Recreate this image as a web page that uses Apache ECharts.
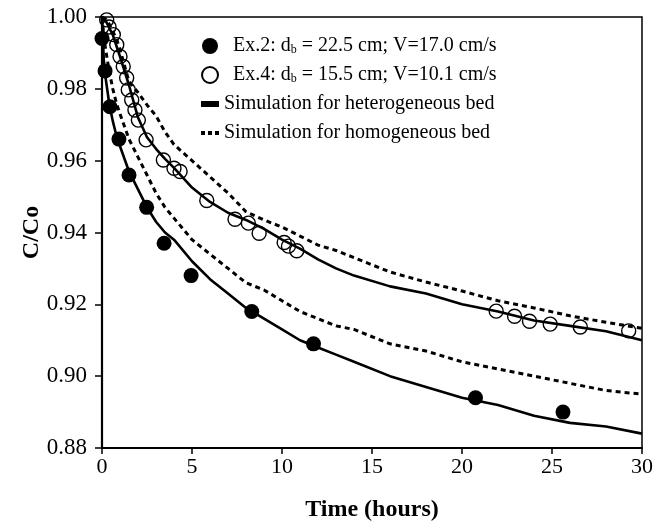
<!DOCTYPE html>
<html>
<head>
<meta charset="utf-8">
<script src="https://cdn.jsdelivr.net/npm/echarts@6/dist/echarts.min.js"></script>
<style>html,body{margin:0;padding:0;background:#fff}#c{width:665px;height:530px}</style>
</head>
<body>
<div id="c"></div>
<script>
// ---- data ----
const ex2Time = [0, 0.17, 0.44, 0.94, 1.5, 2.48, 3.45, 4.95, 8.32, 11.75, 20.75, 25.61];
const ex2Val  = [0.994, 0.985, 0.975, 0.966, 0.956, 0.947, 0.937, 0.928, 0.918, 0.909, 0.894, 0.890];

const ex4Time = [0.26, 0.39, 0.63, 0.82, 1.0, 1.18, 1.37, 1.46, 1.65, 1.83, 2.02, 2.45, 3.41, 4.0, 4.34, 5.82, 7.39, 8.13, 8.73, 10.12, 10.36, 10.82, 21.9, 22.92, 23.75, 24.9, 26.57, 29.26];
const ex4Val  = [0.9992, 0.9972, 0.9951, 0.9923, 0.989, 0.9862, 0.983, 0.9797, 0.9769, 0.9741, 0.9713, 0.9658, 0.9602, 0.9579, 0.957, 0.9489, 0.9437, 0.9426, 0.9398, 0.9372, 0.9362, 0.9349, 0.9181, 0.9167, 0.9153, 0.9145, 0.9137, 0.9126];

const simTime = [0, 0.1, 0.2, 0.4, 0.6, 0.8, 1, 1.5, 2, 2.5, 3, 3.5, 4, 5, 6, 7, 8, 9, 10, 11, 12, 13, 14, 16, 18, 20, 22, 24, 26, 28, 30];
const hetEx2 = [1.000, 0.988, 0.983, 0.976, 0.971, 0.967, 0.964, 0.957, 0.952, 0.947, 0.943, 0.940, 0.938, 0.932, 0.927, 0.923, 0.919, 0.916, 0.913, 0.910, 0.908, 0.906, 0.904, 0.900, 0.897, 0.894, 0.892, 0.889, 0.887, 0.886, 0.884];
const homEx2 = [1.000, 0.995, 0.991, 0.985, 0.980, 0.976, 0.973, 0.966, 0.961, 0.956, 0.951, 0.947, 0.944, 0.938, 0.934, 0.930, 0.926, 0.924, 0.921, 0.918, 0.916, 0.914, 0.913, 0.909, 0.907, 0.904, 0.902, 0.900, 0.898, 0.896, 0.895];
const hetEx4 = [1.000, 0.9995, 0.999, 0.997, 0.995, 0.992, 0.989, 0.981, 0.972, 0.9665, 0.9633, 0.9605, 0.958, 0.9525, 0.9485, 0.9455, 0.9435, 0.941, 0.938, 0.9355, 0.9325, 0.930, 0.928, 0.925, 0.923, 0.920, 0.918, 0.9155, 0.914, 0.9125, 0.910];
const homEx4 = [1.000, 0.9998, 0.9995, 0.998, 0.996, 0.994, 0.991, 0.982, 0.979, 0.9755, 0.9725, 0.968, 0.9645, 0.960, 0.9555, 0.951, 0.9458, 0.9435, 0.9415, 0.939, 0.9365, 0.935, 0.933, 0.929, 0.9262, 0.9237, 0.921, 0.919, 0.9168, 0.915, 0.9133];

const xTicks = { min: 0, max: 30, step: 5 };
const yTicks = { min: 0.88, max: 1.00, step: 0.02 };

const nameEx2 = 'Ex.2';
const nameEx4 = 'Ex.4';
const nameHet = 'Simulation for heterogeneous bed';
const nameHom = 'Simulation for homogeneous bed';
const legendText = {
  'Ex.2': ['Ex.2: d', 'b', ' = 22.5 cm; V=17.0 cm/s'],
  'Ex.4': ['Ex.4: d', 'b', ' = 15.5 cm; V=10.1 cm/s']
};

function pairs(xs, ys) { return xs.map((x, i) => [x, ys[i]]); }

const FONT = 'Liberation Serif';
const chart = echarts.init(document.getElementById('c'), null, { renderer: 'canvas' });

const solid = { color: '#000', width: 2.6, type: 'solid' };
const dotted = { color: '#000', width: 3, type: [5, 4] };
const hidden = { color: 'rgba(0,0,0,0)', borderColor: 'rgba(0,0,0,0)', borderWidth: 0, opacity: 0 };

chart.setOption({
  animation: false,
  backgroundColor: '#fff',
  grid: { left: 102, right: 23, top: 17, bottom: 82, show: true, borderColor: '#000', borderWidth: 1.5, backgroundColor: 'transparent' },
  legend: {
    orient: 'vertical',
    left: 198,
    top: 36,
    padding: 0,
    itemWidth: 18,
    itemHeight: 16,
    itemGap: 9,
    selectedMode: false,
    data: [
      { name: nameEx2 },
      { name: nameEx4 },
      { name: nameHet, lineStyle: { width: 6, type: 'solid', color: '#000' }, itemStyle: hidden },
      { name: nameHom, lineStyle: { width: 4, type: [4, 3], color: '#000' }, itemStyle: hidden }
    ],
    formatter: function (name) {
      if (legendText[name]) {
        const p = legendText[name];
        return '{gap|}{t|' + p[0] + '}{s|' + p[1] + '}{t|' + p[2] + '}';
      }
      return '{t|' + name + '}';
    },
    textStyle: {
      fontFamily: FONT, fontSize: 20, color: '#000',
      rich: {
        gap: { width: 9 },
        t: { fontFamily: FONT, fontSize: 20, color: '#000' },
        s: { fontFamily: FONT, fontSize: 12, color: '#000', verticalAlign: 'bottom' }
      }
    }
  },
  xAxis: {
    type: 'value',
    min: xTicks.min, max: xTicks.max, interval: xTicks.step,
    name: 'Time (hours)',
    nameLocation: 'middle',
    nameGap: 50,
    nameTextStyle: { fontFamily: FONT, fontSize: 24, fontWeight: 'bold', color: '#000' },
    axisLine: { lineStyle: { color: '#000', width: 2.2 } },
    axisTick: { show: true, inside: false, length: 6, lineStyle: { color: '#000', width: 1.5 } },
    axisLabel: { fontFamily: FONT, fontSize: 22, color: '#000', margin: 8 },
    splitLine: { show: false }
  },
  yAxis: {
    type: 'value',
    min: yTicks.min, max: yTicks.max, interval: yTicks.step,
    name: 'C/Co',
    nameLocation: 'middle',
    nameGap: 58,
    nameRotate: 90,
    nameMoveOverlap: false,
    nameTextStyle: { fontFamily: FONT, fontSize: 24, fontWeight: 'bold', color: '#000' },
    axisLine: { show: true, lineStyle: { color: '#000', width: 2.2 } },
    axisTick: { show: true, inside: false, length: 7, lineStyle: { color: '#000', width: 1.5 } },
    axisLabel: { fontFamily: FONT, fontSize: 23, color: '#000', margin: 15, formatter: v => v.toFixed(2) },
    splitLine: { show: false }
  },
  series: [
    { name: nameHet, type: 'line', data: pairs(simTime, hetEx2), symbol: 'none', showSymbol: false, itemStyle: { color: '#000' }, lineStyle: solid, z: 2 },
    { name: nameHet, type: 'line', data: pairs(simTime, hetEx4), symbol: 'none', showSymbol: false, itemStyle: { color: '#000' }, lineStyle: solid, z: 2 },
    { name: nameHom, type: 'line', data: pairs(simTime, homEx2), symbol: 'none', showSymbol: false, itemStyle: { color: '#000' }, lineStyle: dotted, z: 2 },
    { name: nameHom, type: 'line', data: pairs(simTime, homEx4), symbol: 'none', showSymbol: false, itemStyle: { color: '#000' }, lineStyle: dotted, z: 2 },
    { name: nameEx2, type: 'scatter', data: pairs(ex2Time, ex2Val), symbol: 'circle', symbolSize: 15, itemStyle: { color: '#000', opacity: 1 }, z: 4 },
    { name: nameEx4, type: 'scatter', data: pairs(ex4Time, ex4Val), symbol: 'circle', symbolSize: 14, itemStyle: { color: 'rgba(0,0,0,0)', borderColor: '#000', borderWidth: 1.4, opacity: 1 }, z: 5 }
  ]
});
</script>
</body>
</html>
